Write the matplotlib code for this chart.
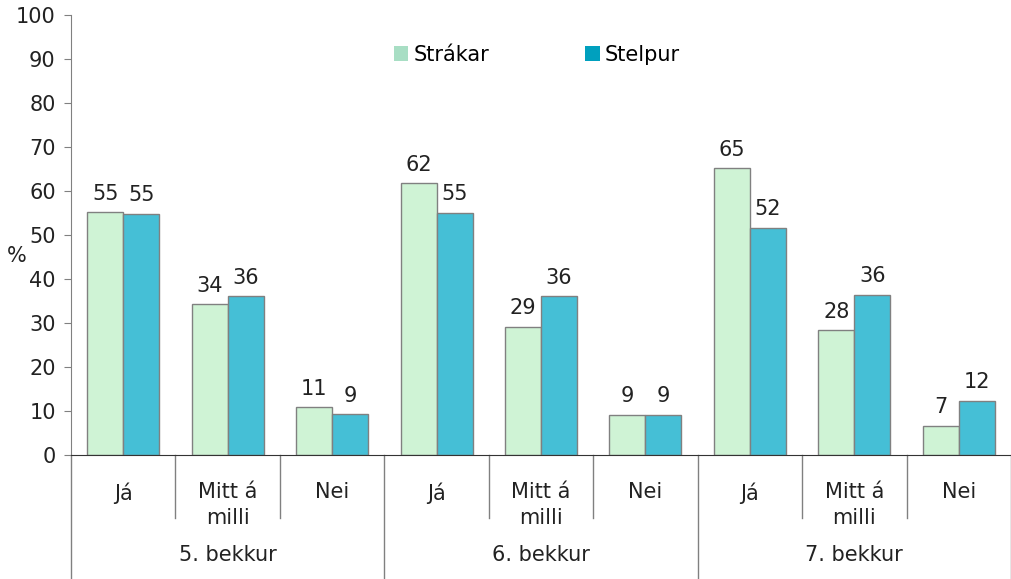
import matplotlib
matplotlib.use("Agg")
import matplotlib.pyplot as plt
from matplotlib.patches import Patch
import matplotlib.transforms as mtransforms

groups = ["5. bekkur", "6. bekkur", "7. bekkur"]
answers = ["Já", "Mitt á\nmilli", "Nei"]
strakar = [55.2, 34.3, 10.9, 61.8, 29.1, 9.1, 65.2, 28.4, 6.6]
stelpur = [54.8, 36.1, 9.3, 55.0, 36.1, 9.1, 51.6, 36.4, 12.3]

bar_boy = "#cff3d5"
bar_girl = "#45bfd6"
leg_boy = "#a8dec4"
leg_girl = "#00a0be"
grey = "#808080"
fs = 15

plt.rcParams['font.family'] = ['DejaVu Sans']
fig = plt.figure(figsize=(10.12, 5.79), dpi=100)
ax = fig.add_axes([71 / 1012, 1 - 455 / 579, 940 / 1012, 440 / 579])

w = 0.345
n = len(strakar)
xs = [i + 0.5 for i in range(n)]
ax.bar([x - w / 2 for x in xs], strakar, w, color=bar_boy, edgecolor=grey, linewidth=1)
ax.bar([x + w / 2 for x in xs], stelpur, w, color=bar_girl, edgecolor=grey, linewidth=1)

for x, a, b in zip(xs, strakar, stelpur):
    ax.annotate(f"{round(a)}", (x - w / 2, a), xytext=(0, 9), textcoords="offset points",
                ha="center", va="baseline", fontsize=fs, color="#222222")
    ax.annotate(f"{round(b)}", (x + w / 2, b), xytext=(0, 9), textcoords="offset points",
                ha="center", va="baseline", fontsize=fs, color="#222222")

ax.set_xlim(0, n)
ax.set_ylim(0, 100)
ax.set_yticks(range(0, 101, 10))
ax.tick_params(axis="y", direction="out", length=5, pad=6, color=grey, labelsize=fs,
               labelcolor="#222222")
ax.set_xticks([])
for s in ["top", "right"]:
    ax.spines[s].set_visible(False)
ax.spines["left"].set_color(grey)
ax.spines["bottom"].set_color("#333333")
ax.spines["left"].set_bounds(0, 100)

ax.set_ylabel("%", rotation=0, fontsize=fs, color="#222222")
ax.yaxis.set_label_coords(-0.058, 0.43)

# multi-level category axis
trans = mtransforms.blended_transform_factory(ax.transData, ax.transAxes)
bottom = -124 / 440
ax.plot([0, 0], [0, bottom], transform=trans, color=grey, lw=1, clip_on=False)
for i in range(1, n + 1):
    if i % 3 == 0:
        ax.plot([i, i], [0, bottom], transform=trans, color=grey, lw=1, clip_on=False)
    else:
        ax.plot([i, i], [0, -63 / 440], transform=trans, color=grey, lw=1, clip_on=False)
for i, x in enumerate(xs):
    ax.text(x, -27 / 440, answers[i % 3], transform=trans, ha="center", va="top",
            fontsize=fs, color="#222222", linespacing=1.4)
for g, name in enumerate(groups):
    ax.text(g * 3 + 1.5, -100 / 440, name, transform=trans, ha="center", va="center",
            fontsize=fs, color="#222222")

handles = [Patch(facecolor=leg_boy, edgecolor="none"), Patch(facecolor=leg_girl, edgecolor="none")]
ax.legend(handles, ["Strákar", "Stelpur"], ncol=2, frameon=False, fontsize=fs,
          loc="center", bbox_to_anchor=((537 - 71) / 940, (455 - 55) / 440),
          handlelength=0.7, handleheight=0.7, handletextpad=0.25, columnspacing=4.6)

fig.savefig("out.png", dpi=100)
